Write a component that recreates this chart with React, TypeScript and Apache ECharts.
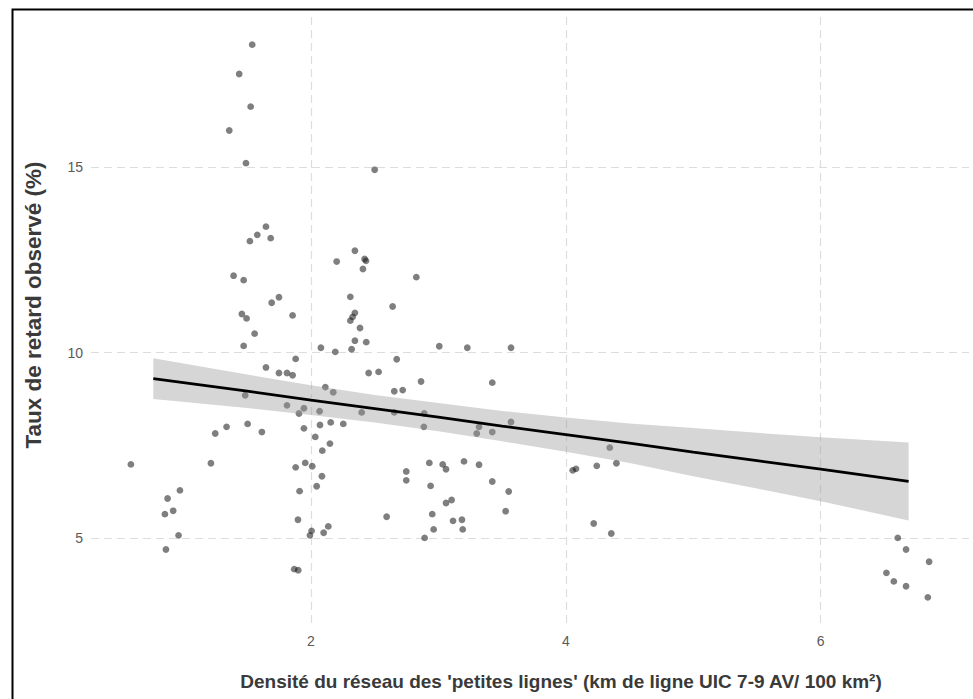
import React, { useEffect, useRef } from "react";
import * as echarts from "echarts";

// Observed points: density of "petites lignes" network (x) vs observed delay rate % (y)
const densite: number[] = [
  1.539, 1.437, 1.527, 1.359, 1.49, 1.647, 1.579, 1.684, 1.521,
  1.393, 1.472, 1.692, 1.749, 1.458, 1.495, 1.856, 1.558, 1.472, 1.88, 1.647,
  1.749, 1.812, 1.856, 1.484, 1.812, 1.906, 1.249, 1.338, 1.503, 1.615,
  0.587, 1.215, 1.88, 0.972, 0.875, 0.919, 0.854, 1.911, 1.898, 0.961, 0.862,
  1.869, 1.9,
  2.5, 2.345, 2.202, 2.421, 2.432, 2.408, 2.827, 2.309, 2.345, 2.327, 2.309,
  2.641, 2.385, 2.345, 2.434, 2.319, 2.078, 2.191, 3.007, 3.227, 2.673, 2.453,
  2.531, 2.864, 3.423, 2.113, 2.175, 2.654, 2.72,
  1.945, 2.068, 2.398, 2.654, 2.889, 2.886, 2.071, 2.155, 2.254, 1.945, 2.034,
  2.149, 2.089, 3.319, 3.301, 3.423, 1.955, 2.01, 2.929, 3.034, 3.06, 3.201,
  3.319, 2.748, 2.748, 2.086, 2.045, 2.939, 3.423, 3.06, 3.104, 2.594, 2.952,
  3.115, 3.185, 2.005, 1.992, 2.136, 2.1, 2.963, 3.191, 2.892,
  3.57, 3.57, 4.345, 4.397, 4.243, 4.054, 4.08, 3.552, 3.528, 4.219, 4.357,
  6.605, 6.67, 6.851, 6.516, 6.574, 6.67, 6.841,
];
const tauxRetard: number[] = [
  18.29, 17.5, 16.62, 15.98, 15.1, 13.39, 13.17, 13.08, 13.0,
  12.07, 11.95, 11.34, 11.49, 11.04, 10.92, 11.0, 10.51, 10.18, 9.83, 9.6,
  9.45, 9.45, 9.39, 8.85, 8.58, 8.36, 7.82, 8.0, 8.08, 7.86,
  6.99, 7.02, 6.91, 6.29, 6.07, 5.74, 5.65, 6.27, 5.5, 5.08, 4.7,
  4.17, 4.14,
  14.92, 12.74, 12.45, 12.52, 12.47, 12.25, 12.03, 11.5, 11.07, 10.96, 10.86,
  11.24, 10.66, 10.32, 10.28, 10.09, 10.13, 10.02, 10.17, 10.13, 9.82, 9.45,
  9.48, 9.22, 9.19, 9.07, 8.93, 8.96, 8.99,
  8.5, 8.42, 8.39, 8.39, 8.36, 8.0, 8.05, 8.12, 8.08, 7.96, 7.73,
  7.55, 7.36, 8.0, 7.82, 7.86, 7.03, 6.94, 7.03, 6.99, 6.86, 7.07,
  6.98, 6.8, 6.56, 6.67, 6.4, 6.41, 6.53, 5.95, 6.03, 5.58, 5.65,
  5.47, 5.5, 5.2, 5.08, 5.32, 5.15, 5.24, 5.24, 5.01,
  10.13, 8.13, 7.44, 7.02, 6.95, 6.83, 6.87, 6.26, 5.73, 5.4, 5.13,
  5.01, 4.7, 4.37, 4.07, 3.84, 3.71, 3.41,
];

// Linear fit and its confidence band
const fitX: number[] = [0.763, 1.5, 2.0, 2.5, 3.0, 3.5, 4.0, 4.5, 5.0, 5.5, 6.0, 6.69];
const fitY: number[] = [9.3, 8.96, 8.72, 8.49, 8.26, 8.02, 7.79, 7.56, 7.32, 7.09, 6.86, 6.53];
const bandUpper: number[] = [9.85, 9.41, 9.12, 8.86, 8.64, 8.43, 8.25, 8.09, 7.97, 7.84, 7.72, 7.58];
const bandLower: number[] = [8.75, 8.51, 8.32, 8.12, 7.88, 7.61, 7.33, 7.03, 6.67, 6.34, 6.0, 5.48];

const xTicks: number[] = [2, 4, 6];
const yTicks: number[] = [5, 10, 15];

const xTitle = "Densité du réseau des 'petites lignes' (km de ligne UIC 7-9 AV/ 100 km²)";
const yTitle = "Taux de retard observé (%)";

const FONT = "Liberation Sans, Arial, sans-serif";

export default function App() {
  const ref = useRef<HTMLDivElement>(null);

  useEffect(() => {
    if (!ref.current) return;
    const chart = echarts.init(ref.current, undefined, { renderer: "svg" });

    const points = densite.map((x, i) => [x, tauxRetard[i]]);
    const fitLine = fitX.map((x, i) => [x, fitY[i]]);

    const gridLine = {
      show: true,
      lineStyle: { color: "#dddddd", width: 1.2, type: [8, 5] as any },
    };

    chart.setOption({
      animation: false,
      backgroundColor: "#ffffff",
      textStyle: { fontFamily: FONT },
      grid: { left: 91, right: 4, top: 17, bottom: 74, containLabel: false },
      xAxis: {
        type: "value",
        min: 0.274,
        max: 7.164,
        axisLine: { show: false },
        axisTick: { show: false, customValues: xTicks },
        axisLabel: {
          customValues: xTicks,
          color: "#5a5a5a",
          fontSize: 14,
          margin: 9,
          fontFamily: FONT,
        },
        splitLine: gridLine,
      },
      yAxis: {
        type: "value",
        min: 2.666,
        max: 19.034,
        axisLine: { show: false },
        axisTick: { show: false, customValues: yTicks },
        axisLabel: {
          customValues: yTicks,
          color: "#5a5a5a",
          fontSize: 14,
          margin: 8,
          fontFamily: FONT,
        },
        splitLine: gridLine,
      },
      graphic: [
        {
          type: "text",
          x: 561,
          y: 681,
          silent: true,
          style: {
            text: xTitle,
            fontSize: 19,
            fontWeight: "bold",
            fill: "#3a3a3a",
            fontFamily: FONT,
            align: "center",
            verticalAlign: "middle",
          },
        },
        {
          type: "text",
          x: 33,
          y: 305,
          rotation: Math.PI / 2,
          silent: true,
          style: {
            text: yTitle,
            fontSize: 22.5,
            fontWeight: "bold",
            fill: "#3a3a3a",
            fontFamily: FONT,
            align: "center",
            verticalAlign: "middle",
          },
        },
        {
          type: "rect",
          left: 10,
          top: 7,
          shape: { x: 0, y: 0, width: 1000, height: 1000 },
          style: { fill: "none", stroke: "#000000", lineWidth: 2 },
          silent: true,
          z: 100,
        },
      ],
      series: [
        {
          type: "scatter",
          data: points,
          symbolSize: 6.8,
          itemStyle: { color: "rgba(20,20,20,0.68)" },
          z: 2,
        },
        {
          type: "custom",
          coordinateSystem: "cartesian2d",
          data: [[fitX[0], bandUpper[0]]],
          z: 3,
          silent: true,
          renderItem: (_params: any, api: any) => {
            const pts: number[][] = [];
            fitX.forEach((x, i) => pts.push(api.coord([x, bandUpper[i]])));
            for (let i = fitX.length - 1; i >= 0; i--) pts.push(api.coord([fitX[i], bandLower[i]]));
            return {
              type: "polygon",
              shape: { points: pts },
              style: { fill: "rgba(153,153,153,0.4)", stroke: "none" },
            };
          },
        },
        {
          type: "line",
          data: fitLine,
          showSymbol: false,
          symbol: "none",
          lineStyle: { color: "#000000", width: 2.8 },
          z: 4,
        },
      ],
    });

    return () => chart.dispose();
  }, []);

  return (
    <div
      ref={ref}
      style={{ position: "fixed", left: 0, top: 0, width: 973, height: 699, background: "#fff" }}
    />
  );
}
